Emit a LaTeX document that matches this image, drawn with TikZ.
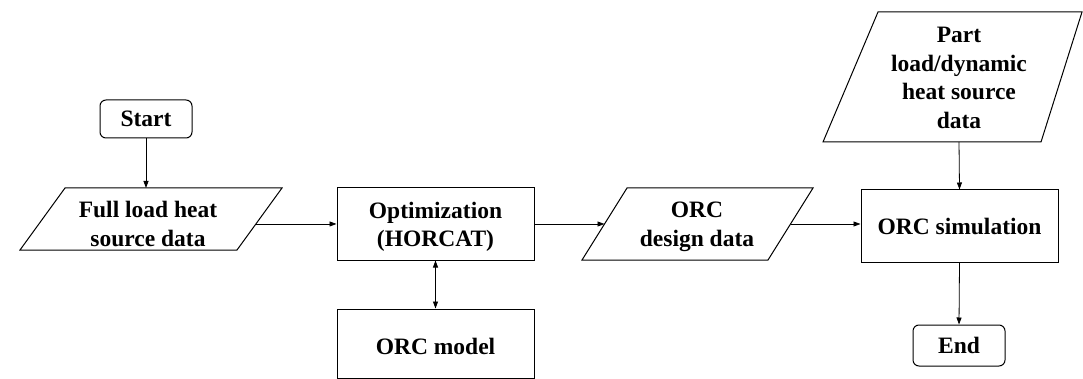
\documentclass[tikz,border=0pt]{standalone}
\usepackage{fontspec}
\setmainfont{Liberation Serif}
\usetikzlibrary{arrows.meta,calc}
\begin{document}
\begin{tikzpicture}[x=1pt,y=-1pt,
  every node/.style={font=\fontsize{23.5}{28.5}\selectfont\bfseries, align=center, inner sep=0pt},
  boxnode/.style={draw, line width=1pt, rectangle},
  termnode/.style={draw, line width=1pt, rectangle, rounded corners=6pt},
  shapeline/.style={draw, line width=1pt, line join=miter},
  conn/.style={line width=0.8pt, -{Triangle[length=7pt,width=5pt]}},
  conn2/.style={line width=0.8pt, {Triangle[length=7pt,width=5pt]}-{Triangle[length=7pt,width=5pt]}}
]
\useasboundingbox (0,0) rectangle (1083,379);
% Start / End
\node[termnode, minimum width=92pt, minimum height=38pt] (start) at (146,119) {Start};
\node[termnode, minimum width=92pt, minimum height=41pt] (end) at (959,345.5) {End};
% Full load parallelogram
\coordinate (fltl) at (65,188); \coordinate (fltr) at (282,188);
\coordinate (flbr) at (237,250); \coordinate (flbl) at (20,250);
\path[shapeline] (fltl) -- (fltr) -- (flbr) -- (flbl) -- cycle;
\node (fl) at (148,224) {Full load heat\\source data};
\coordinate (flin) at (146,188);
\coordinate (flout) at ($(fltr)!0.58!(flbr)$);
% Optimization
\node[boxnode, minimum width=197pt, minimum height=72pt] (opt) at (435.5,224) {};
\node at (435.5,227) {Optimization\\(HORCAT)};
% ORC model
\node[boxnode, minimum width=197pt, minimum height=69pt] (model) at (435.5,343.5) {};
\node at (435.5,346) {ORC model};
% Design data parallelogram
\coordinate (ddtl) at (627,188); \coordinate (ddtr) at (813,188);
\coordinate (ddbr) at (768,260); \coordinate (ddbl) at (582,260);
\path[shapeline] (ddtl) -- (ddtr) -- (ddbr) -- (ddbl) -- cycle;
\node (dd) at (697,227) {ORC\\design data};
\coordinate (ddin) at ($(ddtl)!0.5!(ddbl)$);
\coordinate (ddout) at ($(ddtr)!0.5!(ddbr)$);
% Part load parallelogram
\coordinate (pltl) at (878,12); \coordinate (pltr) at (1082,12);
\coordinate (plbr) at (1041,142); \coordinate (plbl) at (823,142);
\path[shapeline] (pltl) -- (pltr) -- (plbr) -- (plbl) -- cycle;
\node (pl) at (959,78) {Part\\load/dynamic\\heat source\\data};
\coordinate (plout) at (959,142);
% ORC simulation
\node[boxnode, minimum width=197pt, minimum height=72pt] (sim) at (959.5,226) {ORC simulation};
% connectors
\draw[conn] (start.south) -- (flin);
\draw[conn] (flout) -- (opt.west |- flout);
\draw[conn] (opt.east) -- (ddin);
\draw[conn2] (opt.south) -- (model.north);
\draw[conn] (ddout) -- (sim.west |- ddout);
\draw[conn] (plout) -- (sim.north);
\draw[conn] (sim.south) -- (end.north);
\end{tikzpicture}
\end{document}
